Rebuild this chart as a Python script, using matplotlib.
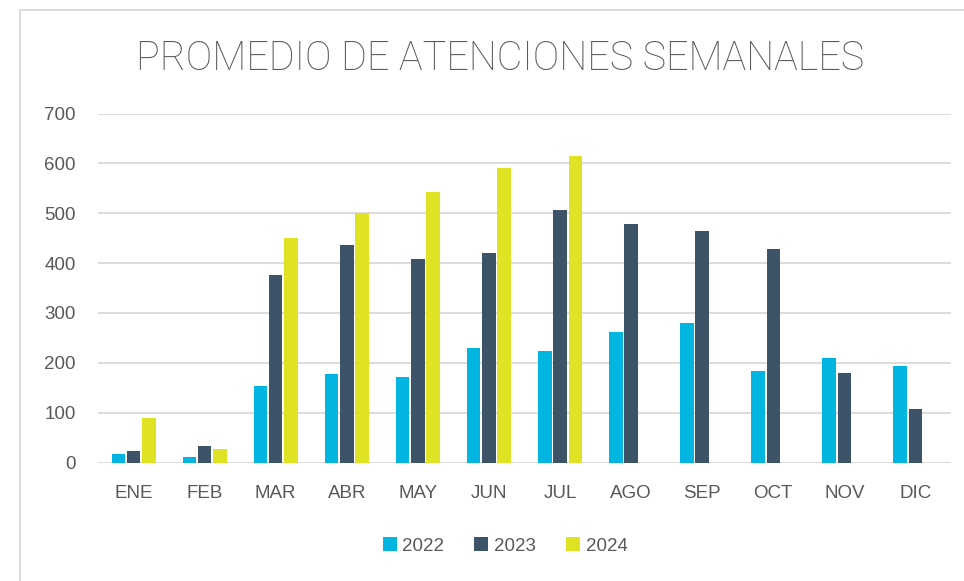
import matplotlib
matplotlib.use("Agg")
import matplotlib.pyplot as plt
import numpy as np
from matplotlib.lines import Line2D
from matplotlib.patches import Patch

months = ["ENE", "FEB", "MAR", "ABR", "MAY", "JUN", "JUL", "AGO", "SEP", "OCT", "NOV", "DIC"]
v2022 = [17, 11, 154, 177, 172, 229, 223, 261, 280, 183, 210, 194]
v2023 = [23, 33, 376, 437, 408, 421, 507, 478, 464, 429, 180, 108]
v2024 = [89, 28, 450, 500, 542, 590, 615, np.nan, np.nan, np.nan, np.nan, np.nan]
series = ["2022", "2023", "2024"]
colors = ["#00B5E0", "#3D5468", "#E0E323"]
yticks = [0, 100, 200, 300, 400, 500, 600, 700]

W, H = 964, 581
fig = plt.figure(figsize=(W / 100, H / 100), dpi=100)
fig.patch.set_facecolor("white")

# chart frame (top and left lines)
fig.add_artist(Line2D([20 / W, 1.0], [1 - 10 / H, 1 - 10 / H], color="#D9D9D9", lw=1.3, transform=fig.transFigure))
fig.add_artist(Line2D([20 / W, 20 / W], [1 - 10 / H, 0.0], color="#D9D9D9", lw=1.3, transform=fig.transFigure))

ax = fig.add_axes([98 / W, 1 - 462.5 / H, (951 - 98) / W, (462.5 - 113.5) / H])
x = np.arange(len(months))
pitch = 0.215
bw = 0.19
for i, (vals, c) in enumerate(zip([v2022, v2023, v2024], colors)):
    ax.bar(x + (i - 1) * pitch, vals, width=bw, color=c, label=series[i], zorder=3)

ax.set_xlim(-0.5, len(months) - 0.5)
ax.set_ylim(0, 700)
ax.set_yticks(yticks)
ax.set_xticks(x)
ax.set_xticklabels(months)
for s in ax.spines.values():
    s.set_visible(False)
ax.grid(axis="y", color="#D9D9D9", lw=1.3, zorder=0)
ax.set_axisbelow(True)
ax.tick_params(axis="both", length=0, labelsize=13.5, labelcolor="#595959")
ax.tick_params(axis="x", pad=16)
ax.tick_params(axis="y", pad=16)
for lab in ax.get_xticklabels() + ax.get_yticklabels():
    lab.set_family(["Liberation Sans", "DejaVu Sans"])

fig.text(500 / W, 1 - 70 / H, "PROMEDIO DE ATENCIONES SEMANALES", ha="center", va="baseline",
         fontsize=28.5, color="#595959", family=["Roboto", "DejaVu Sans"], fontweight="light")

handles = [Patch(facecolor=c, edgecolor="none") for c in colors]
leg = fig.legend(handles, series, loc="center", bbox_to_anchor=(505 / W, 1 - 546 / H), ncol=3,
                 frameon=False, fontsize=13.5, handlelength=0.75, handleheight=0.75,
                 handletextpad=0.3, columnspacing=1.6, prop={"family": "Liberation Sans", "size": 13.5})
for t in leg.get_texts():
    t.set_color("#595959")

fig.savefig("out.png", dpi=100, facecolor="white")
